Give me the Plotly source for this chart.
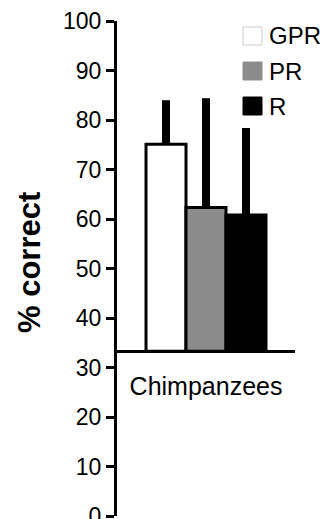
import plotly.graph_objects as go

# ---- data ----
group = ["Chimpanzees"]
series = ["GPR", "PR", "R"]
means = [75.1, 62.3, 60.8]
err_plus = [8.9, 22.1, 17.6]
chance = 33.3
colors = ["white", "#8c8c8c", "black"]
yticks = [0, 10, 20, 30, 40, 50, 60, 70, 80, 90, 100]

FONT = "Liberation Sans, Arial, sans-serif"
W, H = 327, 519
L, R, T, B = 117, 0, 21, 3
PW, PH = W - L - R, H - T - B

def px_x(x):
    return (x - L) / PW

def px_y(y):
    return (H - B - y) / PH

fig = go.Figure()
for name, m, e, c in zip(series, means, err_plus, colors):
    fig.add_trace(go.Bar(
        x=group, y=[m - chance], base=chance, name=name,
        marker=dict(color=c, line=dict(color="black", width=3)),
        error_y=dict(type="data", symmetric=False, array=[e], arrayminus=[0],
                     color="black", thickness=8, width=0),
        showlegend=False,
    ))

shapes = []
annotations = []
leg_y = [36, 71, 106]
for name, c, yc in zip(series, colors, leg_y):
    shapes.append(dict(type="rect", xref="paper", yref="paper",
                       x0=px_x(243), x1=px_x(262), y0=px_y(yc - 9), y1=px_y(yc + 9),
                       fillcolor=c, line=dict(color="#cccccc" if c == "white" else c, width=1)))
    annotations.append(dict(xref="paper", yref="paper", x=px_x(267), y=px_y(yc),
                            xanchor="left", yanchor="middle", text=name, showarrow=False,
                            font=dict(family=FONT, size=24, color="black")))

annotations.append(dict(xref="paper", yref="paper", x=px_x(29), y=px_y(263),
                        xanchor="center", yanchor="middle", text="<b>% correct</b>",
                        textangle=-90, showarrow=False,
                        font=dict(family=FONT, size=31, color="black")))

fig.update_layout(
    width=W, height=H,
    margin=dict(l=L, r=R, t=T, b=B, pad=0, autoexpand=False),
    paper_bgcolor="white", plot_bgcolor="white",
    barmode="group", bargap=0.326, bargroupgap=0,
    shapes=shapes, annotations=annotations,
    font=dict(family=FONT, size=23, color="black"),
    xaxis=dict(domain=[0, (295 - L) / PW], anchor="free", position=chance / 100,
               range=[-0.5, 0.5], showline=True, linewidth=3, linecolor="black",
               ticks="", showgrid=False, zeroline=False, ticklabelstandoff=12,
               automargin=False,
               tickfont=dict(family=FONT, size=25, color="black")),
    yaxis=dict(range=[0, 100], tickvals=yticks, ticks="outside", ticklen=8,
               tickwidth=3, tickcolor="black", showline=True, linewidth=3,
               linecolor="black", showgrid=False, zeroline=False,
               ticklabeloverflow="allow", automargin=False,
               tickfont=dict(family=FONT, size=23, color="black")),
)

fig.write_html("out.html")
